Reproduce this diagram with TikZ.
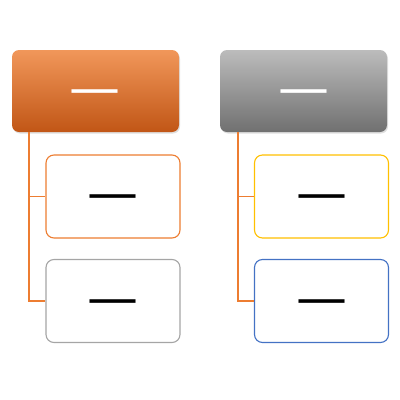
\documentclass[tikz,border=0pt]{standalone}
\usepackage{fontspec}
\newfontfamily\dashfont{DejaVu Sans}
\usetikzlibrary{positioning,shadows}
\definecolor{offorange}{RGB}{237,125,49}
\definecolor{offgray}{RGB}{165,165,165}
\definecolor{offgold}{RGB}{255,192,0}
\definecolor{offblue}{RGB}{68,114,196}

\begin{document}
\begin{tikzpicture}[x = 1pt, y = -1pt,
  parent/.style = {rounded corners = 7pt, minimum width = 167pt, minimum height = 82pt, inner sep = 0pt,
    text height = 28pt, text depth = 0pt,
    drop shadow = {opacity = .25, shadow xshift = 1pt, shadow yshift = -1.5pt},
    font = \dashfont\fontsize{51}{51}\selectfont, text = white},
  child/.style = {draw, fill = white, line width = 1.1pt, rounded corners = 8pt, minimum width = 134pt,
    minimum height = 83pt, inner sep = 0pt, text height = 28pt, text depth = 0pt,
    font = \dashfont\fontsize{51}{51}\selectfont, text = black},
  conn/.style = {draw = offorange, line width = 1.2pt}]
\useasboundingbox (0,0) rectangle (400,400);
\node[parent, top color = {rgb,255:red,241;green,151;blue,90}, bottom color = {rgb,255:red,193;green,86;blue,22}] (lp) at (95.5,91) {—};
\node[parent, top color = {rgb,255:red,188;green,188;blue,188}, bottom color = {rgb,255:red,112;green,112;blue,112}] (rp) at (303.5,91) {—};
\node[child, draw = offorange] (lc1) at (113,196.5) {—};
\node[child, draw = offgray] (lc2) at (113,301) {—};
\node[child, draw = offgold] (rc1) at (321.5,196.5) {—};
\node[child, draw = offblue] (rc2) at (321.5,301) {—};
\draw[conn] ([xshift = -66.5pt]lp.south) |- (lc2.west);
\draw[conn] ([xshift = -66.5pt]lp.south) |- (lc1.west);
\draw[conn] ([xshift = -65.5pt]rp.south) |- (rc2.west);
\draw[conn] ([xshift = -65.5pt]rp.south) |- (rc1.west);
\end{tikzpicture}
\end{document}
